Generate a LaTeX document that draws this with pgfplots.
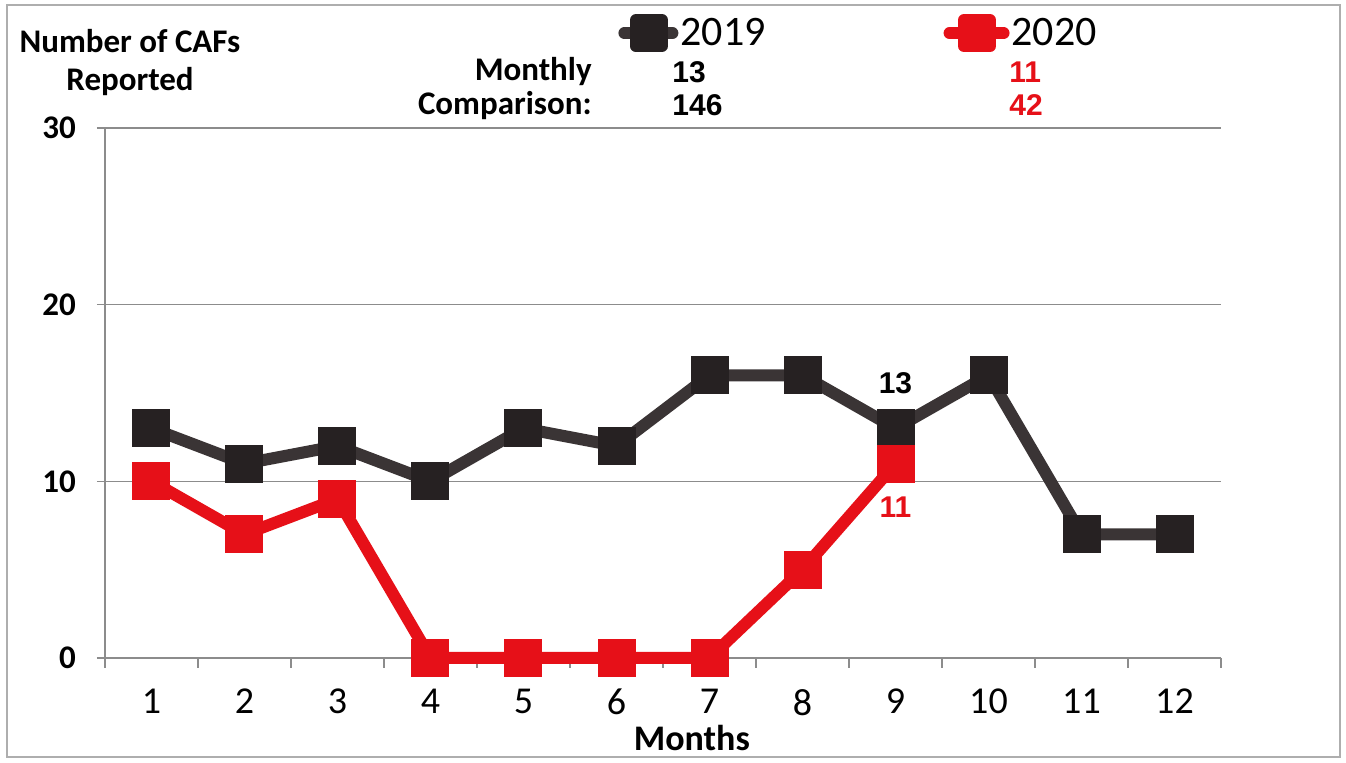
\documentclass[border=0pt]{standalone}
\usepackage{fontspec}
\setmainfont{Carlito}
\newfontfamily\arial{Liberation Sans}
\usepackage{pgfplots}
\pgfplotsset{compat=1.18}
\definecolor{serA}{RGB}{58,52,53}
\definecolor{markA}{RGB}{38,33,34}
\definecolor{serB}{RGB}{230,16,24}
\definecolor{gridc}{RGB}{140,140,140}
\begin{document}
\begin{tikzpicture}
\begin{axis}[
  name=ax,
  scale only axis,
  width=558pt, height=265pt,
  xmin=0.5, xmax=12.5, ymin=0, ymax=30,
  clip=false,
  axis x line*=bottom, axis y line*=left,
  axis line style={draw=gridc, line width=0.8pt, -},
  xtick={1,...,12},
  minor xtick={0.5,1.5,...,12.5},
  ytick={0,10,20,30},
  ymajorgrids,
  grid style={draw=gridc, line width=0.7pt},
  tick align=outside,
  major tick length=4pt,
  minor tick length=5pt,
  major x tick style={draw=none},
  minor x tick style={draw=gridc, line width=0.8pt},
  major y tick style={draw=gridc, line width=0.8pt},
  /pgf/number format/assume math mode=true,
  xticklabel style={font=\fontsize{19}{21}\selectfont, yshift=-8pt},
  yticklabel style={font=\fontsize{16.5}{18}\selectfont\bfseries, xshift=-7pt},
  legend style={at={(0.4597,1.179)}, anchor=west, draw=none, fill=none, inner sep=0pt,
    font=\fontsize{21}{23}\selectfont,
    /tikz/every even column/.append style={column sep=88pt},
    nodes={inner xsep=1pt, inner ysep=0pt}},
  legend columns=2,
]
\addplot[draw=serA, line width=6pt, line join=round,
  mark=square*, mark size=9.25pt, mark options={fill=markA, draw=markA, line width=0pt},
  legend image code/.code={
    \draw[serA, line width=6pt, line cap=round] (3pt,0pt) -- (27pt,0pt);
    \fill[markA] (8.75pt,-6.5pt) rectangle (21.75pt,6.5pt);}]
  coordinates {(1,13) (2,11) (3,12) (4,10) (5,13) (6,12) (7,16) (8,16) (9,13) (10,16) (11,7) (12,7)};
\addlegendentry{2019}
\addplot[draw=serB, line width=6pt, line join=round,
  mark=square*, mark size=9.25pt, mark options={fill=serB, draw=serB, line width=0pt},
  legend image code/.code={
    \draw[serB, line width=6pt, line cap=round] (3pt,0pt) -- (30pt,0pt);
    \fill[serB] (10.25pt,-6.5pt) rectangle (23.25pt,6.5pt);}]
  coordinates {(1,10) (2,7) (3,9) (4,0) (5,0) (6,0) (7,0) (8,5) (9,11)};
\addlegendentry{2020}

\node[font=\fontsize{16.5}{19}\selectfont\bfseries, align=center] at (axis cs:0.769,33.70) {Number of CAFs\\Reported};
\node[font=\fontsize{16.5}{19}\selectfont\bfseries, anchor=east, inner sep=0pt] at (axis cs:5.737,33.18) {Monthly};
\node[font=\fontsize{16.5}{19}\selectfont\bfseries, anchor=east, inner sep=0pt] at (axis cs:5.737,31.28) {Comparison:};
\node[font=\arial\fontsize{15}{17}\selectfont\bfseries, anchor=west, inner sep=0pt] at (axis cs:6.597,33.18) {13};
\node[font=\arial\fontsize{15}{17}\selectfont\bfseries, anchor=west, inner sep=0pt] at (axis cs:6.597,31.28) {146};
\node[font=\arial\fontsize{15}{17}\selectfont\bfseries, anchor=west, inner sep=0pt, text=serB] at (axis cs:10.22,33.18) {11};
\node[font=\arial\fontsize{15}{17}\selectfont\bfseries, anchor=west, inner sep=0pt, text=serB] at (axis cs:10.22,31.28) {42};
\node[font=\arial\fontsize{15}{17}\selectfont\bfseries] at (axis cs:9,15.57) {13};
\node[font=\arial\fontsize{15}{17}\selectfont\bfseries, text=serB] at (axis cs:9,8.55) {11};
\node[font=\fontsize{18}{20}\selectfont\bfseries] at (axis cs:6.81,-4.53) {Months};
\end{axis}
\pgfresetboundingbox
\path[use as bounding box] ([shift={(-52.5pt,-52.5pt)}]ax.south west) rectangle ([shift={(620.5pt,329pt)}]ax.south west);
\draw[gridc!70, line width=0.75pt] ([shift={(-49pt,-49.5pt)}]ax.south west) rectangle ([shift={(617.5pt,326.5pt)}]ax.south west);
\end{tikzpicture}
\end{document}
